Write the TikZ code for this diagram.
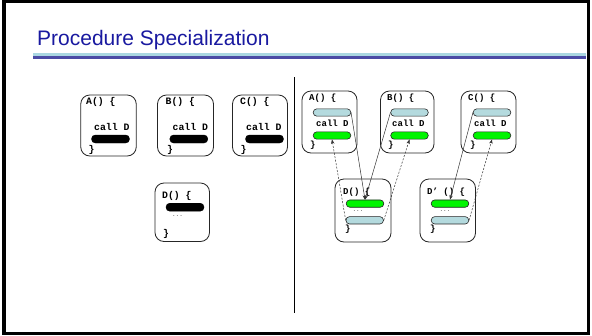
\documentclass[tikz,border=0pt]{standalone}
\usepackage{fontspec}
\setmainfont{Liberation Sans}
\newfontfamily\codefont{Liberation Mono}
\usetikzlibrary{arrows.meta}
\definecolor{titleblue}{RGB}{25,25,160}
\definecolor{ullight}{RGB}{170,215,225}
\definecolor{uldark}{RGB}{75,75,165}
\definecolor{pillblue}{RGB}{180,218,222}
\definecolor{pillgreen}{RGB}{0,245,0}
\begin{document}
\begin{tikzpicture}[x=1pt,y=-1pt,
  proc/.style={draw=black!85, line width=0.8pt, rounded corners=9pt, inner sep=0},
  pblack/.style={draw=black, fill=black, rounded corners=3.8pt, minimum width=38pt, minimum height=8pt, inner sep=0},
  pblue/.style={draw=black!85, fill=pillblue, line width=0.6pt, rounded corners=3.5pt, minimum width=37.5pt, minimum height=7.3pt, inner sep=0},
  pgreen/.style={draw=black!85, fill=pillgreen, line width=0.6pt, rounded corners=3.5pt, minimum width=37.5pt, minimum height=7.3pt, inner sep=0},
  codeL/.style={font=\codefont\bfseries\fontsize{9.8}{9.8}\selectfont, inner sep=0, anchor=west},
  codeS/.style={font=\codefont\bfseries\fontsize{9}{9}\selectfont, inner sep=0, anchor=west},
  dots/.style={font=\codefont\fontsize{6}{6}\selectfont, inner sep=0, text=black!70},
  conn/.style={draw=black!80, line width=0.5pt, -{Stealth[length=4.5pt,width=3.5pt]}},
  dconn/.style={conn, dash pattern=on 2pt off 1.5pt}]
\useasboundingbox (0,0) rectangle (592,335);
\fill[white] (0,0) rectangle (592,335);
\draw[line width=3.4pt] (3.9,1.7) rectangle (588.3,333.3);
% title
\node[anchor=base west, inner sep=0, text=titleblue, font=\fontsize{21}{21}\selectfont] (title) at (37,45.6) {Procedure Specialization};
\fill[ullight] (33.3,53.3) rectangle (586,56);
\fill[uldark] (33.3,56) rectangle (586,58.5);
% divider
\draw[line width=1.4pt] (294.5,77) coordinate (divtop) -- (294.5,313) coordinate (divbot);
% ---------------- left side
\node[proc, minimum width=55.5pt, minimum height=61pt] (lA) at (108.5,125.5) {};
\node[codeL] (lAt) at (86,102) {A() \{};
\node[codeL] (lAc) at (94,127) {call D};
\node[pblack] (lAp) at (110.5,139) {};
\node[codeL] (lAe) at (88.5,150) {\}};

\node[proc, minimum width=56pt, minimum height=61pt] (lB) at (185.5,125.5) {};
\node[codeL] (lBt) at (165.5,102) {B() \{};
\node[codeL] (lBc) at (172.5,127) {call D};
\node[pblack] (lBp) at (188.8,139) {};
\node[codeL] (lBe) at (167,150) {\}};

\node[proc, minimum width=55pt, minimum height=61pt] (lC) at (260,125.5) {};
\node[codeL] (lCt) at (240,102) {C() \{};
\node[codeL] (lCc) at (246,127) {call D};
\node[pblack] (lCp) at (264.5,139) {};
\node[codeL] (lCe) at (240.5,150) {\}};

\node[proc, minimum width=54.5pt, minimum height=58.5pt] (lD) at (182.25,212.25) {};
\node[codeL] (lDt) at (162,196) {D() \{};
\node[pblack] (lDp) at (185,207.2) {};
\node[dots] (lDd) at (177.5,216) {...};
\node[codeL] (lDe) at (163,234) {\}};
% ---------------- right side
\node[proc, minimum width=55pt, minimum height=62pt] (rA) at (329.5,122) {};
\node[codeS] (rAt) at (309,98.5) {A() \{};
\node[pblue] (rAb) at (332,112.5) {};
\node[codeS] (rAc) at (316,123.3) {call D};
\node[pgreen] (rAg) at (332,135.5) {};
\node[codeS] (rAe) at (310,145.5) {\}};

\node[proc, minimum width=53.5pt, minimum height=62pt] (rB) at (407.25,122) {};
\node[codeS] (rBt) at (387,98.5) {B() \{};
\node[pblue] (rBb) at (409.5,112.5) {};
\node[codeS] (rBc) at (392,123.3) {call D};
\node[pgreen] (rBg) at (409.5,135.5) {};
\node[codeS] (rBe) at (388,145.5) {\}};

\node[proc, minimum width=55pt, minimum height=62pt] (rC) at (488.5,122) {};
\node[codeS] (rCt) at (468,98.5) {C() \{};
\node[pblue] (rCb) at (492,112.5) {};
\node[codeS] (rCc) at (474,123.3) {call D};
\node[pgreen] (rCg) at (492,135.5) {};
\node[codeS] (rCe) at (470,145.5) {\}};

\node[proc, minimum width=56pt, minimum height=63pt] (rD) at (363,210.5) {};
\node[codeS] (rDt) at (343,192) {D() \{};
\node[pgreen] (rDg) at (365,203.6) {};
\node[dots] (rDd) at (358,211) {...};
\node[pblue] (rDb) at (364.7,220.3) {};
\node[codeS] (rDe) at (345,229.5) {\}};

\node[proc, minimum width=55.5pt, minimum height=63pt] (rE) at (447.75,210.5) {};
\node[codeS] (rEt) at (427,192) {D’ () \{};
\node[pgreen] (rEg) at (450,203.6) {};
\node[dots] (rEd) at (445,211) {...};
\node[pblue] (rEb) at (450,220.3) {};
\node[codeS] (rEe) at (430,229.5) {\}};
% connectors
\draw[conn] (rAb.east) -- (rDg.north);
\draw[conn] (rBb.west) -- (rDg.north);
\draw[dconn] (rDb.west) -- (rAg.south);
\draw[dconn] (rDb.east) -- (rBg.south);
\draw[conn] (rCb.west) -- (rEg.north);
\draw[dconn] (rEb.east) -- (rCg.south);
\end{tikzpicture}
\end{document}
